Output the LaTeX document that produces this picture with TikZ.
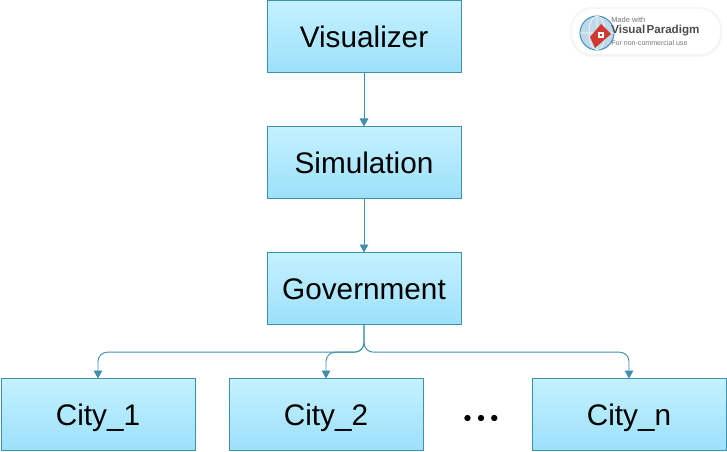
\documentclass[tikz,border=0pt]{standalone}
\usepackage{fontspec}
\setmainfont{Liberation Sans}
\usetikzlibrary{positioning,arrows.meta}
\definecolor{boxline}{HTML}{3F8FAE}
\definecolor{boxtop}{HTML}{C4F1FF}
\definecolor{boxbottom}{HTML}{9CE0FA}
\definecolor{badgegray}{HTML}{777777}
\definecolor{badgered}{HTML}{D03A2E}
\definecolor{globeblue}{HTML}{4A93C0}
\tikzset{
    block/.style={draw=boxline,line width=.7pt,top color=boxtop,bottom color=boxbottom,outer sep=0pt,
        minimum width=145.5pt,minimum height=54pt,inner sep=0pt,text height=16.5pt,text depth=0pt,
        font=\fontsize{22.3}{26}\selectfont},
    link/.style={draw=boxline,line width=.7pt,-{Triangle[length=6pt,width=6.5pt]}},
    badgetext/.style={inner sep=0pt,anchor=west,text=badgegray}
}
\begin{document}
\begin{tikzpicture}[x=.75pt,y=-.75pt,node distance=40.5pt]
    \useasboundingbox (0,0) rectangle (727,452);

    \node [block] (visualizer) at (364,36.5) {Visualizer};
    \node [block,below=of visualizer] (simulation) {Simulation};
    \node [block,below=of simulation] (government) {Government};
    \node [block,below=of government,xshift=-28.5pt] (city2) {City\_2};
    \node [block,left=25.5pt of city2] (city1) {City\_1};
    \node [block,right=81.75pt of city2] (cityn) {City\_n};
    \node [inner sep=0pt,anchor=base,font=\fontsize{11.5}{14}\selectfont] (dots) at (481,422) {$\bullet$\kern4pt$\bullet$\kern4pt$\bullet$};
    \coordinate [below=20.75pt of government] (bus);

    \draw [link] (visualizer) -- (simulation);
    \draw [link] (simulation) -- (government);
    \draw [link,rounded corners=7pt] (government.south) -- (bus) -| (city1.north);
    \draw [link,rounded corners=7pt] (government.south) -- (bus) -| (city2.north);
    \draw [link,rounded corners=7pt] (government.south) -- (bus) -| (cityn.north);

    % badge
    \fill [black!4,rounded corners=17pt] (570,7) rectangle (722,57);
    \fill [white,rounded corners=16pt] (572,9) rectangle (720,54);
    \draw [globeblue,line width=.8pt,fill=globeblue!35] (597,33) circle (17);
    \draw [white,line width=.4pt] (580,33) -- (614,33) (597,16) -- (597,50) (597,33) ellipse (8 and 17);
    \fill [badgered] (601,24) -- (611,34) -- (595,48) -- (590,37) -- cycle;
    \fill [white] (598,32) rectangle (604,38);
    \fill [badgered] (600,34) rectangle (602,36);
    \node [badgetext,font=\fontsize{5.6}{7}\selectfont] (madewith) at (611,20) {Made with};
    \node [badgetext,font=\bfseries\fontsize{8.7}{12}\selectfont,text=black!70] (vpname) at (611,31) {Visual\kern1pt Paradigm};
    \node [badgetext,font=\fontsize{5.3}{7}\selectfont] (noncomm) at (611,43) {For non-commercial use};
\end{tikzpicture}
\end{document}
